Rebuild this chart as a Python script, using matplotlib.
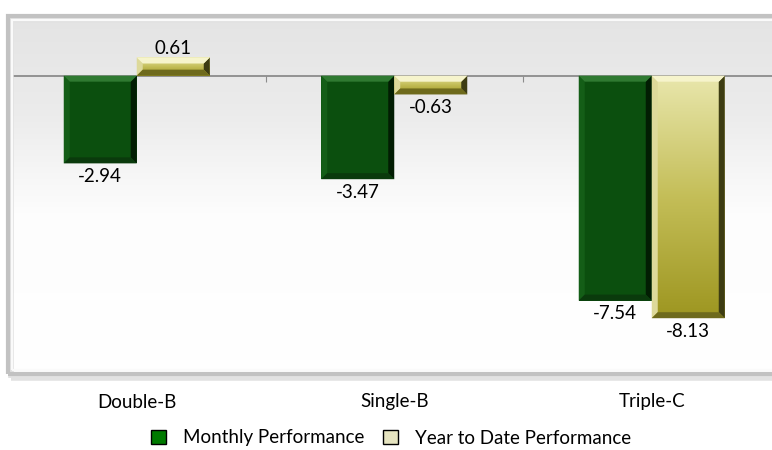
## Monthly vs year-to-date performance by rating bucket
import matplotlib as mpl
mpl.use("Agg")
import matplotlib.pyplot as plt
import matplotlib.colors as mcolors
from matplotlib.patches import Polygon, Rectangle
from matplotlib.transforms import IdentityTransform, blended_transform_factory
import numpy as np

categories = ["Double-B", "Single-B", "Triple-C"]
monthly = [-2.94, -3.47, -7.54]
ytd = [0.61, -0.63, -8.13]
series_names = ["Monthly Performance", "Year to Date Performance"]

plt.rcParams['font.family'] = ['Lato', 'DejaVu Sans']

W, H = 772, 450
fig = plt.figure(figsize=(W / 100, H / 100), dpi=100)
fig.patch.set_facecolor("white")

# plot area in pixels: x 8..780 (clipped at right), y 16..374
px_left, px_top, px_bottom = 8, 16, 374
cat_px = 257.5
ax = fig.add_axes([px_left / W, 1 - px_bottom / H,
                   (3 * cat_px) / W, (px_bottom - px_top) / H])
ax.set_xlim(-0.5, 2.5)
ax.set_ylim(-10, 2)
ax.set_clip_on(False)

# background gradient: light grey at top fading to white
grad = np.linspace(0, 1, 256).reshape(-1, 1)
bg_cmap = mcolors.LinearSegmentedColormap.from_list(
    "bg", [(0, "#ffffff"), (0.45, "#fdfdfd"), (0.72, "#ececec"), (1, "#e4e4e4")])
ax.imshow(grad, cmap=bg_cmap, aspect="auto", extent=(0, 1, 0, 1),
          transform=ax.transAxes, origin="lower", zorder=0)

for s in ax.spines.values():
    s.set_visible(False)
ax.set_yticks([])
ax.axhline(0, color="#8c8c8c", lw=1.3, zorder=2)
ax.set_xticks([0.5, 1.5])
ax.tick_params(axis="x", direction="out", length=4, color="#8c8c8c",
               labelbottom=False)
ax.spines["bottom"].set_position(("data", 0))

x = np.arange(len(categories))
bw = 73 / cat_px
b1 = ax.bar(x - bw / 2, monthly, width=bw, color="#0b4f0e", zorder=3)
b2 = ax.bar(x + bw / 2, ytd, width=bw, color="#d8d48a", zorder=3)

# gradient fill for the YTD bars
tan_cmap = mcolors.LinearSegmentedColormap.from_list(
    "tan", ["#9d9620", "#c4be58", "#e9e7ad"])
for r in b2:
    x0, y0 = r.get_x(), r.get_y()
    x1, y1 = x0 + r.get_width(), y0 + r.get_height()
    lo, hi = min(y0, y1), max(y0, y1)
    im = ax.imshow(grad, cmap=tan_cmap, aspect="auto",
                   extent=(x0, x1, lo, hi), origin="lower", zorder=3.5)
    im.set_clip_path(r)
ax.set_xlim(-0.5, 2.5)
ax.set_ylim(-10, 2)

# bevel edges drawn in pixel space
def bevel(rect, cols, b=6):
    x0, y0 = rect.get_x(), rect.get_y()
    x1, y1 = x0 + rect.get_width(), y0 + rect.get_height()
    (X0, Ya), (X1, Yb) = ax.transData.transform([(x0, y0), (x1, y1)])
    Y0, Y1 = min(Ya, Yb), max(Ya, Yb)
    bb = min(b, (Y1 - Y0) / 2.5)
    top = [(X0, Y1), (X1, Y1), (X1 - bb, Y1 - bb), (X0 + bb, Y1 - bb)]
    bot = [(X0, Y0), (X1, Y0), (X1 - bb, Y0 + bb), (X0 + bb, Y0 + bb)]
    lef = [(X0, Y0), (X0, Y1), (X0 + bb, Y1 - bb), (X0 + bb, Y0 + bb)]
    rig = [(X1, Y0), (X1, Y1), (X1 - bb, Y1 - bb), (X1 - bb, Y0 + bb)]
    for pts, c in zip([lef, rig, top, bot], cols):
        ax.add_patch(Polygon(pts, closed=True, facecolor=c, edgecolor="none",
                             transform=IdentityTransform(), zorder=4))

for r in b1:
    bevel(r, ["#145e17", "#021d03", "#2f7a31", "#0a3a0c"])
for r in b2:
    bevel(r, ["#ddd99a", "#3d3c12", "#f6f4cc", "#6e6a1c"])

# data labels
for xi, v in zip(x - bw / 2, monthly):
    ax.annotate(f"{v:.2f}", (xi, v), xytext=(0, -3.5 if v < 0 else 2),
                textcoords="offset points", ha="center",
                va="top" if v < 0 else "bottom", fontsize=13.5, zorder=6)
for xi, v in zip(x + bw / 2, ytd):
    ax.annotate(f"{v:.2f}", (xi, v), xytext=(0, -3.5 if v < 0 else 0.5),
                textcoords="offset points", ha="center",
                va="top" if v < 0 else "bottom", fontsize=13.5, zorder=6)

# category labels under the plot area
tr = blended_transform_factory(ax.transData, fig.transFigure)
for xi, c in zip(x, categories):
    ax.text(xi, 1 - 402 / H, c, transform=tr, ha="center", va="center",
            fontsize=13.5, clip_on=False)

# beveled frame around the plot area
frame_kw = dict(transform=fig.transFigure, fill=False, clip_on=False)
fig.patches.append(Rectangle((px_left / W + 0.004, 1 - (px_bottom + 4) / H),
                             1, (px_bottom - px_top) / H,
                             edgecolor="#e2e2e2", lw=4, **frame_kw))
fig.patches.append(Rectangle((px_left / W, 1 - px_bottom / H),
                             1, (px_bottom - px_top) / H,
                             edgecolor="#c2c2c2", lw=3, **frame_kw))
fig.patches.append(Rectangle((px_left / W + 0.005, 1 - (px_bottom - 4) / H),
                             1, (px_bottom - px_top - 8) / H,
                             edgecolor="#fafafa", lw=1.5, **frame_kw))

# legend
h1 = Rectangle((0, 0), 1, 1, facecolor="#007a00", edgecolor="black", lw=1)
h2 = Rectangle((0, 0), 1, 1, facecolor="#e6e4c0", edgecolor="black", lw=1)
fig.legend([h1, h2], series_names, loc="center",
           bbox_to_anchor=(391 / W, 1 - 438 / H), ncol=2, frameon=False,
           fontsize=13.5, handlelength=0.8, handleheight=0.8,
           handletextpad=0.9, columnspacing=1.0)

fig.savefig("out.png", dpi=100, facecolor="white")
